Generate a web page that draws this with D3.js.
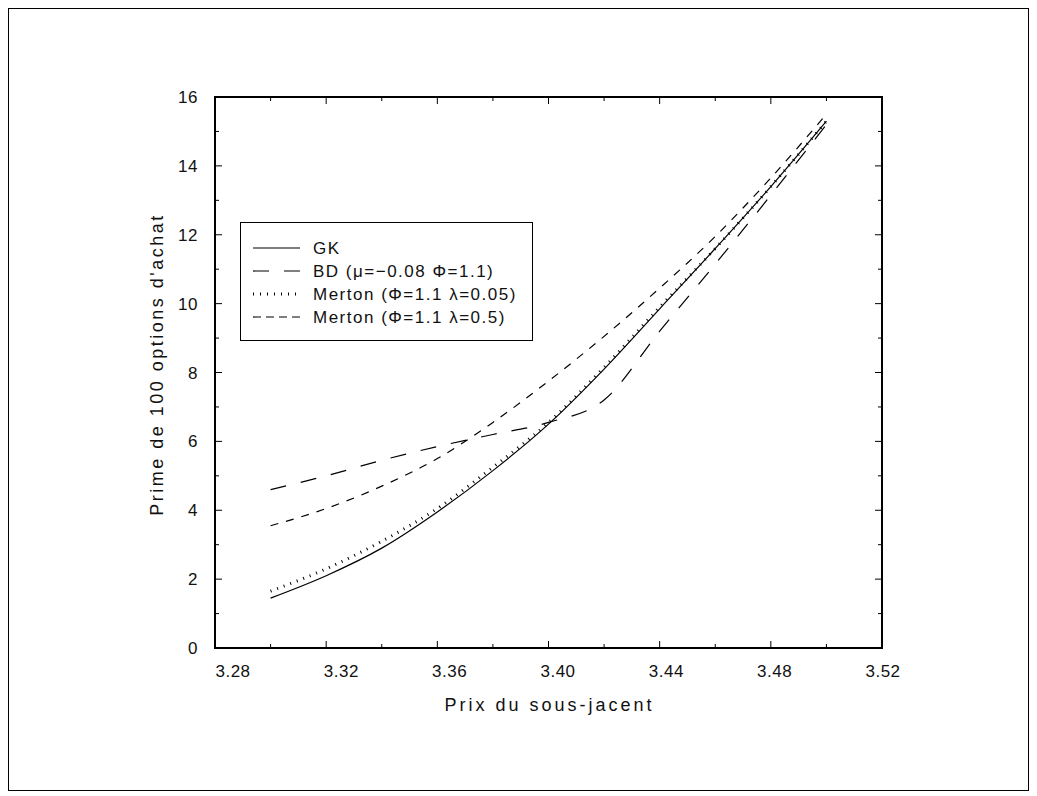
<!DOCTYPE html>
<html>
<head>
<meta charset="utf-8">
<script src="https://cdn.jsdelivr.net/npm/d3@7/dist/d3.min.js"></script>
<style>
  body { margin: 0; background: #fff; }
  text { font-family: "Liberation Sans", Arial, sans-serif; fill: #111; }
</style>
</head>
<body>
<div id="chart"></div>
<script>
// underlying price
const prix = [3.30, 3.32, 3.34, 3.36, 3.38, 3.40, 3.42, 3.44, 3.46, 3.48, 3.50];

// premium of 100 calls
const gk      = [1.45, 2.10, 2.90, 3.95, 5.15, 6.50, 8.10, 9.85, 11.60, 13.40, 15.30];
const bd      = [4.60, 5.00, 5.45, 5.85, 6.20, 6.55, 7.20, 9.20, 11.15, 13.15, 15.20];
const merton1 = [1.65, 2.30, 3.10, 4.05, 5.25, 6.55, 8.15, 9.90, 11.60, 13.40, 15.30];
const merton2 = [3.55, 4.05, 4.70, 5.50, 6.55, 7.75, 9.05, 10.45, 11.95, 13.65, 15.50];

const xTicks = [3.28, 3.32, 3.36, 3.40, 3.44, 3.48, 3.52];
const yTicks = [0, 2, 4, 6, 8, 10, 12, 14, 16];

const seriesNames = ["GK", "BD", "Merton1", "Merton2"];
const legendLabels = ["GK", "BD (μ=−0.08 Φ=1.1)", "Merton (Φ=1.1 λ=0.05)", "Merton (Φ=1.1 λ=0.5)"];

const W = 1037, H = 796;
const margin = { top: 97, right: 155, bottom: 148, left: 215 };
const width = W - margin.left - margin.right, height = H - margin.top - margin.bottom;

let svg = d3.select("#chart").append("svg")
  .attr("width", W).attr("height", H);

// outer frame
svg.append("rect")
  .attr("x", 8.5).attr("y", 8.5).attr("width", W - 17).attr("height", H - 14)
  .attr("fill", "none").attr("stroke", "#000").attr("stroke-width", 1);

let g = svg.append("g").attr("transform", `translate(${margin.left},${margin.top})`);

let x = d3.scaleLinear().domain([3.28, 3.52]).range([0, width]);
let y = d3.scaleLinear().domain([0, 16]).range([height, 0]);
// the old plotter puts the x labels a bit off the ticks
let xLab = d3.scaleLinear().domain([3.28, 3.52]).range([18, width + 1]);

const fmt = d3.format(".2f");

// ticks (inward, all four sides)
let xMinor = d3.range(3.28, 3.5201, 0.02);
let yMinor = d3.range(0, 16.01, 1);
function isMajorX(v) { return Math.round(v * 100) % 4 === 0; }

xMinor.forEach(v => {
  let len = isMajorX(v) ? 7 : 4;
  g.append("line").attr("x1", x(v)).attr("x2", x(v)).attr("y1", height).attr("y2", height - len)
    .attr("stroke", "#000").attr("stroke-width", 1);
  g.append("line").attr("x1", x(v)).attr("x2", x(v)).attr("y1", 0).attr("y2", len)
    .attr("stroke", "#000").attr("stroke-width", 1);
});
yMinor.forEach(v => {
  let len = v % 2 === 0 ? 7 : 4;
  g.append("line").attr("x1", 0).attr("x2", len).attr("y1", y(v)).attr("y2", y(v))
    .attr("stroke", "#000").attr("stroke-width", 1);
  g.append("line").attr("x1", width).attr("x2", width - len).attr("y1", y(v)).attr("y2", y(v))
    .attr("stroke", "#000").attr("stroke-width", 1);
});

// frame
g.append("rect").attr("x", 0).attr("y", 0).attr("width", width).attr("height", height)
  .attr("fill", "none").attr("stroke", "#000").attr("stroke-width", 2);

// tick labels
g.selectAll(".xlab").data(xTicks).join("text")
  .attr("class", "xlab")
  .attr("x", d => xLab(d)).attr("y", height + 29)
  .attr("text-anchor", "middle")
  .style("font-size", "17px").style("letter-spacing", "0.5px")
  .text(d => fmt(d));

g.selectAll(".ylab").data(yTicks).join("text")
  .attr("class", "ylab")
  .attr("x", -17).attr("y", d => y(d) + 6)
  .attr("text-anchor", "end")
  .style("font-size", "17px").style("letter-spacing", "0.5px")
  .text(d => d);

// axis titles
g.append("text")
  .attr("x", width / 2 + 1).attr("y", height + 63)
  .attr("text-anchor", "middle")
  .style("font-size", "18px").style("letter-spacing", "3px")
  .text("Prix du sous-jacent");

g.append("text")
  .attr("transform", `translate(${-52},${height / 2 - 8}) rotate(-90)`)
  .attr("text-anchor", "middle")
  .style("font-size", "18px").style("letter-spacing", "2.5px")
  .text("Prime de 100 options d'achat");

// curves
const styles = {
  GK:      { dash: null,    width: 1.2 },
  BD:      { dash: "16,15", width: 1.2 },
  Merton1: { dash: "1,6",   width: 3 },
  Merton2: { dash: "8,8",   width: 1.2 }
};
const values = { GK: gk, BD: bd, Merton1: merton1, Merton2: merton2 };

let line = d3.line()
  .x(d => x(d[0]))
  .y(d => y(d[1]))
  .curve(d3.curveMonotoneX);

seriesNames.forEach(name => {
  let pts = prix.map((p, i) => [p, values[name][i]]);
  g.append("path")
    .datum(pts)
    .attr("d", line)
    .attr("fill", "none")
    .attr("stroke", "#000")
    .attr("stroke-width", styles[name].width)
    .attr("stroke-dasharray", styles[name].dash);
});

// legend
let legend = svg.append("g").attr("transform", "translate(240,222)");
legend.append("rect").attr("x", 0.5).attr("y", 0.5).attr("width", 292).attr("height", 118)
  .attr("fill", "#fff").attr("stroke", "#000").attr("stroke-width", 1);

let entry = legend.selectAll("g.legendEntry")
  .data(seriesNames)
  .join("g").attr("class", "legendEntry")
  .attr("transform", (d, i) => `translate(0,${26 + i * 23})`);

entry.append("line")
  .attr("x1", 13).attr("x2", 60).attr("y1", 0).attr("y2", 0)
  .attr("stroke", "#000")
  .attr("stroke-width", d => styles[d].width)
  .attr("stroke-dasharray", d => d === "Merton2" ? "8,5" : styles[d].dash);

entry.append("text")
  .attr("x", 73).attr("y", 6)
  .style("font-size", "17px").style("letter-spacing", "1.5px")
  .text((d, i) => legendLabels[i]);
</script>
</body>
</html>
